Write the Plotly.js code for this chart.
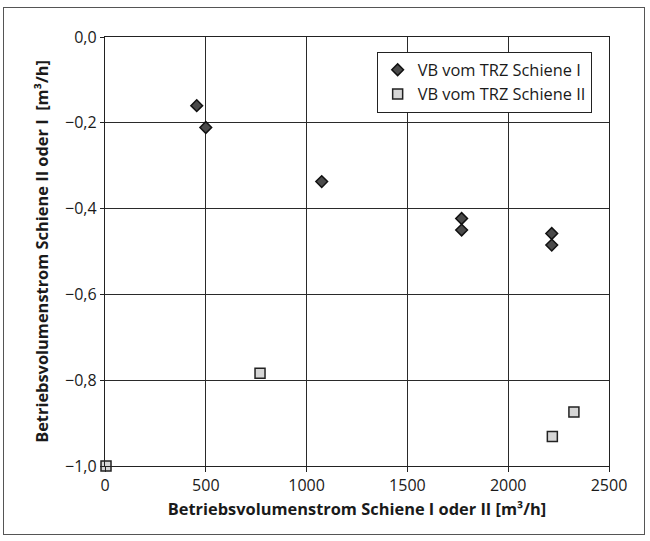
<!DOCTYPE html>
<html>
<head>
<meta charset="utf-8">
<script src="https://cdn.plot.ly/plotly-3.0.1.min.js"></script>
<style>
  html, body { margin: 0; padding: 0; background: #fff; }
  #frame { position: absolute; left: 3px; top: 7px; width: 642px; height: 528px; border: 1px solid #555; box-sizing: border-box; pointer-events: none; z-index: 5; }
  #chart { width: 650px; height: 541px; }
</style>
</head>
<body>
<div id="frame"></div>
<div id="chart"></div>
<script>
// Series I: VB vom TRZ Schiene I
const seriesIName = 'VB vom TRZ Schiene I';
const seriesIX = [455, 500, 1075, 1769, 1769, 2216, 2216];
const seriesIY = [-0.160, -0.211, -0.337, -0.423, -0.450, -0.458, -0.485];

// Series II: VB vom TRZ Schiene II
const seriesIIName = 'VB vom TRZ Schiene II';
const seriesIIX = [5, 769, 2219, 2326];
const seriesIIY = [-1.0, -0.784, -0.931, -0.874];

const xTickVals = [0, 500, 1000, 1500, 2000, 2500];
const yTickVals = [0, -0.2, -0.4, -0.6, -0.8, -1.0];

const xTitle = 'Betriebsvolumenstrom Schiene I oder II [m³/h]';
const yTitle = 'Betriebsvolumenstrom Schiene II oder I  [m³/h]';

const font = 'Open Sans, Noto Sans, sans-serif';

const traces = [
  {
    type: 'scatter', mode: 'markers', name: seriesIName,
    x: seriesIX, y: seriesIY, cliponaxis: false,
    marker: { symbol: 'diamond', size: 9, color: '#4a4a4a', line: { color: '#111', width: 1.5 } }
  },
  {
    type: 'scatter', mode: 'markers', name: seriesIIName,
    x: seriesIIX, y: seriesIIY, cliponaxis: false,
    marker: { symbol: 'square', size: 10, color: '#d6d6d6', line: { color: '#222', width: 1.5 } }
  }
];

const layout = {
  width: 650, height: 541,
  margin: { l: 105, r: 41, t: 37, b: 75 },
  paper_bgcolor: '#fff', plot_bgcolor: '#fff',
  separators: ',.',
  font: { family: font, size: 16, color: '#1a1a1a' },
  showlegend: true,
  legend: {
    x: 0.539, y: 0.966, xanchor: 'left', yanchor: 'top',
    bgcolor: '#fff', bordercolor: '#222', borderwidth: 1,
    font: { family: font, size: 16.4, color: '#1a1a1a' },
    tracegroupgap: 0
  },
  xaxis: {
    range: [0, 2500], tickvals: xTickVals, ticktext: xTickVals.map(String),
    showgrid: true, gridcolor: '#2a2a2a', gridwidth: 1,
    showline: true, linecolor: '#222', linewidth: 1.2, mirror: true,
    ticks: 'outside', ticklen: 5, tickcolor: '#222',
    zeroline: false,
    tickfont: { family: font, size: 16, color: '#1a1a1a' },
    title: { text: xTitle, font: { family: font, size: 16.4, color: '#1a1a1a', weight: 'bold' }, standoff: 8 }
  },
  yaxis: {
    range: [-1, 0], tickvals: yTickVals, tickformat: '.1f',
    showgrid: true, gridcolor: '#2a2a2a', gridwidth: 1,
    showline: true, linecolor: '#222', linewidth: 1.2, mirror: true,
    ticks: 'outside', ticklen: 4, tickcolor: '#222',
    zeroline: false,
    tickfont: { family: font, size: 16, color: '#1a1a1a' },
    title: { text: yTitle, font: { family: font, size: 16.4, color: '#1a1a1a', weight: 'bold' }, standoff: 12 }
  }
};

Plotly.newPlot('chart', traces, layout, { displayModeBar: false, staticPlot: true });
</script>
</body>
</html>
